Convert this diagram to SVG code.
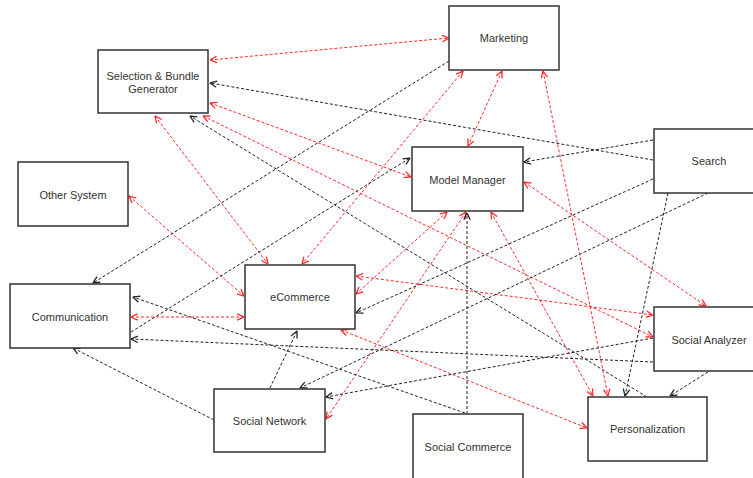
<svg xmlns="http://www.w3.org/2000/svg" width="753" height="478" viewBox="0 0 753 478">
<style>
.box{fill:#fff;stroke:#333;stroke-width:1.5}
.t{font-family:"Liberation Sans",Arial,sans-serif;font-size:11px;fill:#333;text-anchor:middle}
.r{stroke:#ff2a2a;stroke-width:1;fill:none;stroke-dasharray:3 2;marker-start:url(#ar);marker-end:url(#ar)}
.b{stroke:#222;stroke-width:1;fill:none;stroke-dasharray:3 2;marker-end:url(#ab)}
</style>
<defs>
<marker id="ar" viewBox="0 0 10 10" refX="9.5" refY="5" markerWidth="8" markerHeight="8" markerUnits="userSpaceOnUse" orient="auto-start-reverse"><path d="M1,1 L9.5,5 L1,9" fill="none" stroke="#ff2a2a" stroke-width="1.6"/></marker>
<marker id="ab" viewBox="0 0 10 10" refX="9.5" refY="5" markerWidth="8" markerHeight="8" markerUnits="userSpaceOnUse" orient="auto"><path d="M1,1 L9.5,5 L1,9" fill="none" stroke="#222" stroke-width="1.6"/></marker>
</defs>
<rect width="753" height="478" fill="#fff"/>
<g id="connectors">
<line class="r" x1="210" y1="60" x2="449" y2="38"/>
<line class="r" x1="210" y1="103" x2="411" y2="177"/>
<line class="r" x1="203" y1="116" x2="653" y2="337"/>
<line class="r" x1="155" y1="116" x2="268" y2="264"/>
<line class="r" x1="129" y1="196" x2="244" y2="296"/>
<line class="r" x1="131" y1="317" x2="244" y2="317"/>
<line class="r" x1="463" y1="71" x2="302" y2="264"/>
<line class="r" x1="502" y1="71" x2="468" y2="146"/>
<line class="r" x1="543" y1="71" x2="608" y2="396"/>
<line class="r" x1="447" y1="212" x2="356" y2="294"/>
<line class="r" x1="466" y1="212" x2="326" y2="419"/>
<line class="r" x1="491" y1="212" x2="593" y2="396"/>
<line class="r" x1="524" y1="182" x2="706" y2="306"/>
<line class="r" x1="356" y1="276" x2="653" y2="315"/>
<line class="r" x1="341" y1="330" x2="587" y2="428"/>
<line class="b" x1="449" y1="61" x2="93" y2="283"/>
<line class="b" x1="653" y1="160" x2="210" y2="83"/>
<line class="b" x1="653" y1="140" x2="524" y2="162"/>
<line class="b" x1="653" y1="179" x2="356" y2="313"/>
<line class="b" x1="708" y1="193" x2="300" y2="388"/>
<line class="b" x1="668" y1="193" x2="625" y2="396"/>
<line class="b" x1="708" y1="372" x2="670" y2="396"/>
<line class="b" x1="653" y1="338" x2="326" y2="397"/>
<line class="b" x1="653" y1="362" x2="131" y2="339"/>
<line class="b" x1="131" y1="332" x2="410" y2="158"/>
<line class="b" x1="270" y1="388" x2="297" y2="331"/>
<line class="b" x1="214" y1="420" x2="73" y2="348"/>
<line class="b" x1="467" y1="414" x2="467" y2="213"/>
<line class="b" x1="465" y1="413" x2="133" y2="297"/>
<line class="b" x1="647" y1="397" x2="190" y2="116"/>
</g>
<g id="sbg"><rect class="box" x="98" y="50" width="110" height="63"/><text class="t" x="153" y="80">Selection &amp; Bundle</text><text class="t" x="153" y="93">Generator</text></g>
<g id="marketing"><rect class="box" x="449" y="6" width="110" height="64"/><text class="t" x="504" y="42">Marketing</text></g>
<g id="search"><rect class="box" x="654" y="129" width="110" height="64"/><text class="t" x="709" y="165">Search</text></g>
<g id="other"><rect class="box" x="18" y="162" width="110" height="64"/><text class="t" x="73" y="199">Other System</text></g>
<g id="modelmanager"><rect class="box" x="412" y="147" width="111" height="64"/><text class="t" x="467.5" y="184">Model Manager</text></g>
<g id="communication"><rect class="box" x="10" y="284" width="120" height="64"/><text class="t" x="70" y="321">Communication</text></g>
<g id="ecommerce"><rect class="box" x="245" y="265" width="110" height="64"/><text class="t" x="300" y="301">eCommerce</text></g>
<g id="socialanalyzer"><rect class="box" x="654" y="307" width="110" height="64"/><text class="t" x="709" y="344">Social Analyzer</text></g>
<g id="socialnetwork"><rect class="box" x="214" y="389" width="111" height="63"/><text class="t" x="269.5" y="425">Social Network</text></g>
<g id="socialcommerce"><rect class="box" x="413" y="414" width="110" height="70"/><text class="t" x="468" y="451">Social Commerce</text></g>
<g id="personalization"><rect class="box" x="588" y="397" width="119" height="64"/><text class="t" x="647.5" y="433">Personalization</text></g>
</svg>
